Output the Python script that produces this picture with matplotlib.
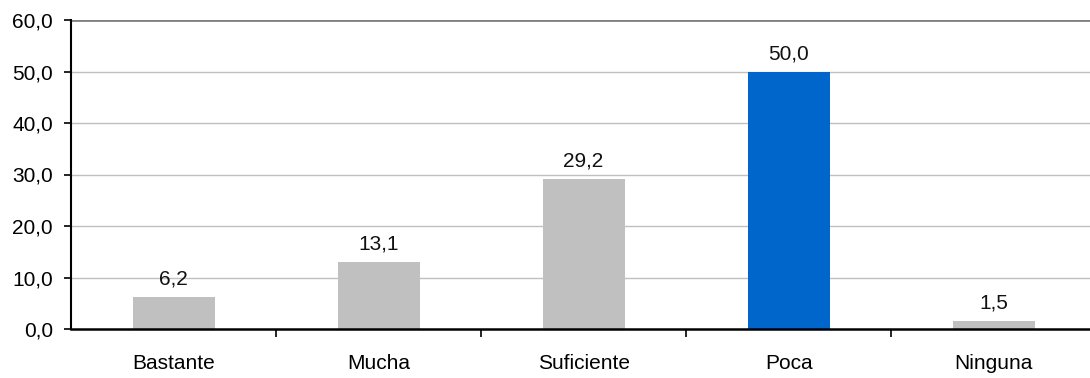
import matplotlib
matplotlib.use("Agg")
import matplotlib.pyplot as plt
from matplotlib.ticker import FixedLocator, FuncFormatter

plt.rcParams['font.family'] = ['Liberation Sans', 'DejaVu Sans']

categories = ["Bastante", "Mucha", "Suficiente", "Poca", "Ninguna"]
values = [6.2, 13.1, 29.2, 50.0, 1.5]
colors = ["#c0c0c0", "#c0c0c0", "#c0c0c0", "#0066cc", "#c0c0c0"]
y_ticks = [0, 10, 20, 30, 40, 50, 60]

FS = 15

fig = plt.figure(figsize=(10.9, 3.78), dpi=100)
ax = fig.add_axes([71 / 1090, 49 / 378, 1 - 71 / 1090, 309 / 378])

x = list(range(len(categories)))
ax.bar(x, values, width=0.4, color=colors, zorder=3)

for xi, v in zip(x, values):
    ax.annotate(f"{v:.1f}".replace(".", ","), (xi, v), xytext=(0, 6),
                textcoords="offset points", ha="center", va="bottom",
                fontsize=FS, color="#111111")

# plot area runs slightly past the right edge of the figure
ax.set_xlim(-0.5, len(categories) - 0.53)
ax.set_ylim(0, 60)

# y axis
ax.set_yticks(y_ticks)
ax.yaxis.set_major_formatter(FuncFormatter(lambda v, p: f"{v:.1f}".replace(".", ",")))
ax.tick_params(axis="y", direction="out", length=5, width=1.2, labelsize=FS, pad=8)

# x axis: labels at centers, tick marks at category boundaries
ax.set_xticks(x)
ax.set_xticklabels(categories)
ax.tick_params(axis="x", which="major", length=0, labelsize=FS, pad=18)
ax.xaxis.set_minor_locator(FixedLocator([i + 0.5 for i in range(len(categories) - 1)]))
ax.tick_params(axis="x", which="minor", direction="out", length=6, width=1.2)

for yt in y_ticks[1:-1]:
    ax.axhline(yt, color="#c0c0c0", lw=1, zorder=1)
ax.axhline(60, color="#808080", lw=2, zorder=1)

for s in ["top", "right"]:
    ax.spines[s].set_visible(False)
ax.spines["left"].set_linewidth(1.5)
ax.spines["bottom"].set_linewidth(1.8)
ax.spines["bottom"].set_zorder(4)

fig.savefig("out.png", dpi=100)
